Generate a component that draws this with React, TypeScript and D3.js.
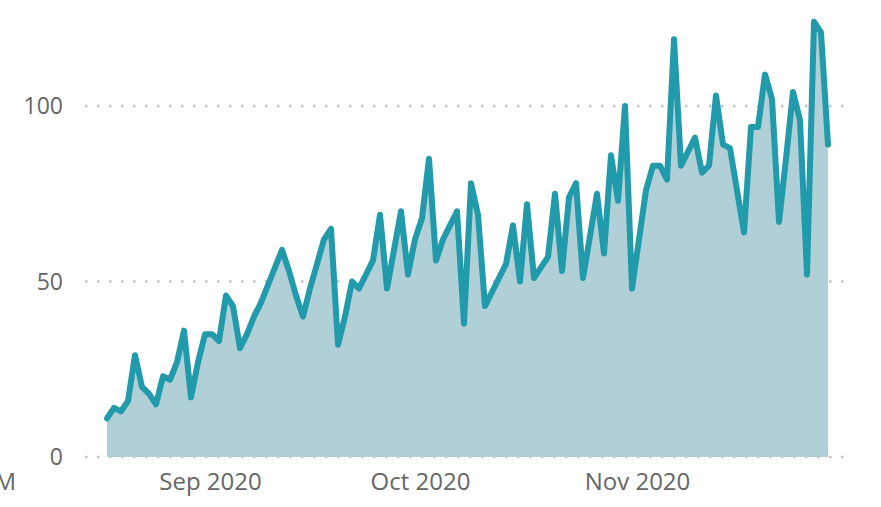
import { useRef, useEffect } from "react";
import * as d3 from "d3";

// daily values, first day 2020-08-17
const startDay = "2020-08-17";
const values = [
  11, 14, 13, 16, 29, 20, 18, 15, 23, 22, 27, 36, 17, 27, 35, 35, 33, 46, 43, 31,
  35, 40, 44, 49, 54, 59, 53, 46, 40, 48, 55, 62, 65, 32, 40, 50, 48, 52, 56, 69,
  48, 59, 70, 52, 62, 68, 85, 56, 62, 66, 70, 38, 78, 69, 43, 47, 51, 55, 66, 50,
  72, 51, 54, 57, 75, 53, 74, 78, 51, 63, 75, 58, 86, 73, 100, 48, 62, 76, 83, 83,
  79, 119, 83, 87, 91, 81, 83, 103, 89, 88, 76, 64, 94, 94, 109, 102, 67, 85, 104, 96,
  52, 124, 121, 89,
];
const yTicks = [0, 50, 100];
const cutLabel = "12:00:00 AM";

interface Pt {
  date: Date;
  value: number;
}

const parse = d3.timeParse("%Y-%m-%d");
const data: Pt[] = values.map((v, i) => ({
  date: d3.timeDay.offset(parse(startDay)!, i),
  value: v,
}));

export default function App() {
  const ref = useRef<SVGSVGElement>(null);
  const width = 881;
  const height = 507;

  useEffect(() => {
    if (!ref.current) return;
    const svg = d3.select(ref.current);
    svg.selectAll("*").remove();
    const font = "'Segoe UI','Open Sans',sans-serif";

    const x = d3
      .scaleTime()
      .domain(d3.extent(data, d => d.date) as [Date, Date])
      .range([107, 828]);
    const y = d3.scaleLinear().domain([0, 100]).range([457, 106]);

    // dotted gridlines
    svg.append("g").selectAll("line").data(yTicks).enter().append("line")
      .attr("x1", 85).attr("x2", 848)
      .attr("y1", d => y(d)).attr("y2", d => y(d))
      .attr("stroke", "#c4c4c4").attr("stroke-width", 2.5)
      .attr("stroke-dasharray", "2.5,9.5");

    // y labels
    svg.append("g").selectAll("text").data(yTicks).enter().append("text")
      .attr("x", 63).attr("y", d => y(d)).attr("dy", "0.35em")
      .attr("text-anchor", "end").attr("fill", "#666")
      .attr("font-size", "23px").attr("font-family", font)
      .text(d => d);

    // area + line
    const area = d3.area<Pt>().x(d => x(d.date)).y0(y(0)).y1(d => y(d.value));
    svg.append("path").datum(data).attr("d", area).attr("fill", "#b0cfd6");
    const line = d3.line<Pt>().x(d => x(d.date)).y(d => y(d.value));
    svg.append("path").datum(data).attr("d", line)
      .attr("fill", "none").attr("stroke", "#219aab").attr("stroke-width", 6)
      .attr("stroke-linejoin", "round").attr("stroke-linecap", "round");

    // x axis: month labels only
    const xAxis = svg.append("g").attr("transform", "translate(0,470)")
      .call(d3.axisBottom(x).tickValues(d3.timeMonth.range(x.domain()[0], x.domain()[1]))
        .tickFormat(d3.timeFormat("%b %Y") as any).tickSize(0).tickPadding(0));
    xAxis.select(".domain").remove();
    xAxis.selectAll("text").attr("dy", "0.82em").attr("dx", "-2px")
      .attr("fill", "#666").attr("font-size", "24px").attr("font-family", font);

    // clipped category label at far left
    svg.append("text").attr("x", 16).attr("y", 490).attr("text-anchor", "end")
      .attr("fill", "#666").attr("font-size", "24px").attr("font-family", font)
      .text(cutLabel);
  }, []);

  return (
    <svg
      ref={ref}
      width={width}
      height={height}
      style={{ position: "absolute", left: 0, top: 0, background: "#fff" }}
    />
  );
}
